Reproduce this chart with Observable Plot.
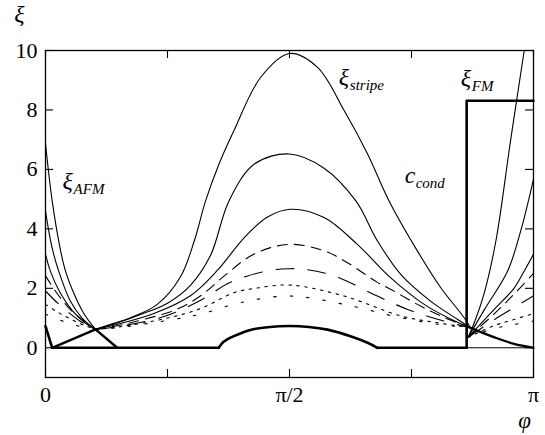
<!DOCTYPE html>
<html><head><meta charset="utf-8">
<script src="https://cdn.jsdelivr.net/npm/d3@7"></script>
<script src="https://cdn.jsdelivr.net/npm/@observablehq/plot@0.6"></script>
<style>body{margin:0;background:#fff} svg text{font-family:"Liberation Serif","Times New Roman",Times,"DejaVu Serif","Noto Serif",FreeSerif,serif !important}</style>
</head><body><div id="chart"></div>
<script>
// axis ticks (phi in units of pi)
const xTicks = [0, 0.25, 0.5, 0.75, 1];
const xTickLabels = ["0", "", "π/2", "", "π"];
const yTicks = [0, 2, 4, 6, 8, 10];
const yTickLabels = ["0", "2", "4", "6", "8", "10"];

const families = ["s1", "s2", "s3", "dash", "longdash", "dot", "sparse"];

// xi_AFM branch: [phi/pi, xi]
const afmS1 = [[0,6.87],[0.0137,4.94],[0.031,3.26],[0.041,2.58],[0.055,1.95],[0.0785,1.15],[0.1025,0.62]];
const afmS2 = [[0,4.6],[0.013,3.4],[0.027,2.58],[0.05,1.6],[0.075,1.0],[0.1025,0.62]];
const afmS3 = [[0,3.15],[0.01,2.58],[0.03,1.85],[0.055,1.25],[0.08,0.85],[0.1025,0.62]];
const afmDash = [[0,2.42],[0.025,1.8],[0.05,1.3],[0.075,0.95],[0.1025,0.62]];
const afmLong = [[0,1.91],[0.025,1.5],[0.05,1.15],[0.075,0.85],[0.1025,0.62]];
const afmDot = [[0,1.46],[0.025,1.2],[0.05,0.98],[0.075,0.78],[0.1025,0.62]];
const afmSparse = [[0,1.13],[0.025,0.96],[0.05,0.82],[0.075,0.7],[0.1025,0.62]];

// xi_stripe branch
const stripeS1 = [[0.1025,0.62],[0.14,0.82],[0.174,1.01],[0.229,1.46],[0.277,2.4],[0.305,3.6],[0.328,4.94],[0.356,6.2],[0.386,7.3],[0.441,9.1],[0.5,9.9],[0.557,9.44],[0.612,7.98],[0.66,6.52],[0.704,4.94],[0.762,3.26],[0.81,2.02],[0.858,1.01],[0.871,0.67]];
const stripeS2 = [[0.1025,0.62],[0.15,0.85],[0.2,1.15],[0.25,1.5],[0.297,2.1],[0.338,3.1],[0.376,4.94],[0.428,6.18],[0.5,6.52],[0.57,6.05],[0.636,4.94],[0.68,3.6],[0.728,2.47],[0.789,1.57],[0.844,0.96],[0.871,0.67]];
const stripeS3 = [[0.1025,0.62],[0.15,0.8],[0.222,1.15],[0.297,1.75],[0.352,2.6],[0.407,3.7],[0.455,4.4],[0.502,4.66],[0.571,4.38],[0.639,3.48],[0.707,2.36],[0.776,1.46],[0.831,0.96],[0.871,0.67]];
const stripeDash = [[0.1025,0.62],[0.15,0.75],[0.2,0.95],[0.27,1.3],[0.318,1.75],[0.369,2.45],[0.427,3.15],[0.5,3.48],[0.571,3.26],[0.619,2.86],[0.68,2.2],[0.707,1.97],[0.762,1.46],[0.81,1.07],[0.871,0.67]];
const stripeLong = [[0.1025,0.62],[0.15,0.72],[0.243,1.05],[0.318,1.6],[0.379,2.2],[0.455,2.59],[0.5,2.66],[0.53,2.64],[0.591,2.42],[0.68,1.74],[0.742,1.29],[0.803,0.96],[0.871,0.67]];
const stripeDot = [[0.1025,0.62],[0.15,0.7],[0.25,1.0],[0.318,1.32],[0.386,1.85],[0.43,2.0],[0.5,2.11],[0.612,1.74],[0.728,1.07],[0.8,0.85],[0.871,0.67]];
const stripeSparse = [[0.1025,0.62],[0.15,0.68],[0.25,0.92],[0.318,1.13],[0.4,1.52],[0.5,1.74],[0.612,1.46],[0.728,1.01],[0.8,0.8],[0.871,0.67]];

// xi_FM branch
const fmS1 = [[0.866,0.35],[0.88,0.9],[0.9,1.9],[0.923,3.6],[0.953,6.97],[0.981,10],[1,12.1]];
const fmS2 = [[0.866,0.35],[0.9,1.3],[0.947,2.58],[0.975,4.0],[1,5.67]];
const fmS3 = [[0.866,0.35],[0.92,1.3],[0.96,2.0],[0.981,2.58],[1,3.15]];
const fmDash = [[0.866,0.35],[0.92,1.15],[0.96,1.8],[1,2.5]];
const fmLong = [[0.866,0.35],[0.92,0.95],[0.96,1.35],[1,1.75]];
const fmDot = [[0.866,0.35],[0.92,0.75],[0.96,0.95],[1,1.15]];
const fmSparse = [[0.866,0.35],[0.92,0.65],[0.96,0.78],[1,0.9]];

// thick curves
const cCondAfm = [[0,0.73],[0.0137,0],[0.355,0]];
const cCondStripe = [[0.355,0],[0.365,0.2],[0.386,0.39],[0.42,0.6],[0.46,0.7],[0.5,0.73],[0.54,0.7],[0.578,0.61],[0.625,0.39],[0.66,0.17],[0.68,0]];
const cCondZero = [[0.68,0],[0.863,0]];
const fmStep = [[0.863,0],[0.863,8.31],[1,8.31]];
const bundleLeftUp = [[0.0137,0],[0.1025,0.62]];
const bundleLeftDown = [[0.1025,0.62],[0.147,0]];
const bundleRight = [[0.871,0.67],[0.92,0.35],[0.96,0.13],[1,0]];
const zeroRight = [[0.863,0],[1,0]];

// annotations
const annoMain = ["ξ", "ξ", "ξ", "c"];
const annoSub = ["AFM", "stripe", "FM", "cond"];
const annoPhi = [0.035, 0.601, 0.851, 0.736];
const annoXi = [5.35, 8.85, 8.79, 5.55];

const FONT = '"Liberation Serif", "Times New Roman", Times, "DejaVu Serif", serif';
const dashes = {s1: null, s2: null, s3: null, dash: "10,7", longdash: "18,14", dot: "2.5,5.5", sparse: "2.5,14"};
const branches = {
  s1: [afmS1, stripeS1, fmS1], s2: [afmS2, stripeS2, fmS2], s3: [afmS3, stripeS3, fmS3],
  dash: [afmDash, stripeDash, fmDash], longdash: [afmLong, stripeLong, fmLong],
  dot: [afmDot, stripeDot, fmDot], sparse: [afmSparse, stripeSparse, fmSparse]
};
const toRows = (pts, z) => pts.map(([phi, xi]) => ({phi, xi, z}));

const familyMarks = families.map(f => {
  const rows = branches[f].flatMap((pts, i) => toRows(pts, f + i));
  return Plot.line(rows, {x: "phi", y: "xi", z: "z", curve: "catmull-rom", stroke: "black",
    strokeWidth: 1.1, strokeDasharray: dashes[f], clip: true});
});

const annos = annoMain.map((m, i) => ({m, s: annoSub[i], x: annoPhi[i], y: annoXi[i]}));
const FW = 488, FH = 327;

const chart = Plot.plot({
  width: 545, height: 435,
  marginLeft: 45, marginRight: 12, marginTop: 50, marginBottom: 58,
  x: {domain: [0, 1]},
  y: {domain: [-1, 10]},
  style: {fontFamily: FONT, fontSize: "22px", color: "black", background: "white"},
  marks: [
    ...familyMarks,
    Plot.line(toRows(cCondAfm, "c"), {x: "phi", y: "xi", strokeWidth: 2.6}),
    Plot.line(toRows(cCondStripe, "c"), {x: "phi", y: "xi", curve: "catmull-rom", strokeWidth: 2.6}),
    Plot.line(toRows(cCondZero, "c"), {x: "phi", y: "xi", strokeWidth: 2.6}),
    Plot.line(toRows(fmStep, "f"), {x: "phi", y: "xi", strokeWidth: 2.6}),
    Plot.line(toRows(bundleLeftUp, "a"), {x: "phi", y: "xi", strokeWidth: 2.4}),
    Plot.line(toRows(bundleLeftDown, "b"), {x: "phi", y: "xi", strokeWidth: 2.4}),
    Plot.line(toRows(bundleRight, "r"), {x: "phi", y: "xi", curve: "monotone-x", strokeWidth: 2.2}),
    Plot.line(toRows(zeroRight, "z"), {x: "phi", y: "xi", strokeWidth: 1}),
    Plot.frame({strokeWidth: 1.3}),
    Plot.ruleY(yTicks, {y: d => d, insetRight: FW - 8, strokeWidth: 1.1}),
    Plot.ruleY(yTicks, {y: d => d, insetLeft: FW - 8, strokeWidth: 1.1}),
    Plot.ruleX(xTicks, {x: d => d, insetTop: FH - 8, strokeWidth: 1.1}),
    Plot.ruleX(xTicks, {x: d => d, insetBottom: FH - 8, strokeWidth: 1.1}),
    Plot.axisY({ticks: yTicks, tickSize: 0, tickPadding: 8, fontFamily: FONT, fontSize: 22, tickFormat: d => yTickLabels[yTicks.indexOf(d)], label: null}),
    Plot.axisX({ticks: xTicks, tickSize: 0, tickPadding: 9, fontFamily: FONT, fontSize: 22, tickFormat: d => xTickLabels[xTicks.indexOf(d)], label: null}),
    Plot.text(["ξ"], {frameAnchor: "top-left", dx: -26, dy: -29, lineAnchor: "bottom", textAnchor: "middle", fontFamily: FONT, fontStyle: "italic", fontSize: 24}),
    Plot.text(["φ"], {frameAnchor: "bottom-right", dx: -9, dy: 50, lineAnchor: "bottom", textAnchor: "middle", fontFamily: FONT, fontStyle: "italic", fontSize: 23}),
    Plot.text(annos, {x: "x", y: "y", text: "m", textAnchor: "start", lineAnchor: "bottom", fontFamily: FONT, fontStyle: "italic", fontSize: 24}),
    Plot.text(annos, {x: "x", y: "y", text: "s", textAnchor: "start", lineAnchor: "bottom", fontFamily: FONT, fontStyle: "italic", fontSize: 15, dx: 11, dy: 5})
  ]
});
document.getElementById("chart").append(chart);
</script>
</body></html>
